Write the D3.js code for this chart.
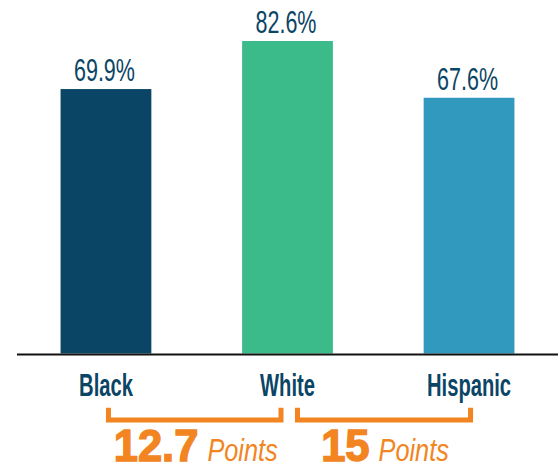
<!DOCTYPE html>
<html><head><meta charset="utf-8">
<script src="https://cdn.jsdelivr.net/npm/d3@7"></script>
<style>html,body{margin:0;padding:0;background:#fff;}svg{display:block;}</style>
</head><body>
<svg id="chart" width="560" height="466"></svg>
<script>
const categories = ["Black", "White", "Hispanic"];
const values = [69.9, 82.6, 67.6];
const barColors = ["#0b4565", "#3bba8a", "#3198be"];
const gapFrom = ["Black", "White"];
const gapTo = ["White", "Hispanic"];
const gapNumbers = ["12.7", "15"];
const gapUnit = "Points";

const navy = "#0b4565", orange = "#f28522";
const sans = "'Liberation Sans', Arial, sans-serif";
const svg = d3.select("#chart");

// condense text horizontally (reference uses a condensed face)
function condense(sel, k) {
  sel.each(function () {
    const n = this.getComputedTextLength();
    d3.select(this).attr("textLength", n * k).attr("lengthAdjust", "spacingAndGlyphs");
  });
}

const x = d3.scaleBand().domain(categories).range([17, 558]).paddingInner(0.5).paddingOuter(0.24);
const y = d3.scaleLinear().domain([0, 100]).range([353.5, -24.8]);
const cx = c => x(c) + x.bandwidth() / 2;

// bars
svg.selectAll("rect.bar").data(categories).join("rect")
  .attr("class", "bar")
  .attr("x", d => x(d)).attr("width", x.bandwidth())
  .attr("y", (d, i) => y(values[i]))
  .attr("height", (d, i) => y(0) - y(values[i]))
  .attr("fill", (d, i) => barColors[i]);

// axis
const axis = svg.append("g").attr("transform", `translate(0,${y(0) + 1})`)
  .call(d3.axisBottom(x).tickSize(0).tickPadding(19));
axis.select(".domain").attr("stroke", "#111").attr("stroke-width", 2.2)
  .attr("d", `M17,0H558`);
axis.selectAll(".tick text")
  .attr("fill", navy).attr("font-family", sans).attr("font-weight", "bold")
  .attr("font-size", 31).attr("dy", "0.71em")
  .call(condense, 0.65);

// value labels
svg.selectAll("text.val").data(categories).join("text")
  .attr("class", "val")
  .attr("x", d => cx(d) - 1.5)
  .attr("y", (d, i) => y(values[i]) - 8)
  .attr("text-anchor", "middle")
  .attr("fill", navy).attr("font-family", sans).attr("font-size", 30.5)
  .text((d, i) => values[i].toFixed(1) + "%")
  .call(condense, 0.705);

// brackets
const bracketOffL = [0, 7.5], bracketOffR = [-4, 4];
const bTop = 407.7, bY = 420, sw = 5;
gapFrom.forEach((a, i) => {
  const x0 = cx(a) + bracketOffL[i] + sw / 2;
  const x1 = cx(gapTo[i]) + bracketOffR[i] - sw / 2;
  svg.append("path")
    .attr("d", `M${x0},${bTop}V${bY}H${x1}V${bTop}`)
    .attr("fill", "none").attr("stroke", orange).attr("stroke-width", sw)
    .attr("stroke-linejoin", "miter").attr("stroke-linecap", "butt");
  const mid = (x0 + x1) / 2 + 1;
  const t = svg.append("text").attr("x", mid).attr("y", 460.5)
    .attr("text-anchor", "middle").attr("fill", orange);
  t.append("tspan").attr("font-family", sans)
    .attr("font-weight", "bold").attr("font-size", 43.5)
    .attr("stroke", orange).attr("stroke-width", 1.4)
    .text(gapNumbers[i]);
  const u = t.append("tspan").attr("dx", 9).attr("font-family", sans)
    .attr("font-style", "italic").attr("font-size", 30.5).text(gapUnit);
  u.attr("textLength", u.node().getComputedTextLength() * 0.83).attr("lengthAdjust", "spacingAndGlyphs");
});
</script>
</body></html>
